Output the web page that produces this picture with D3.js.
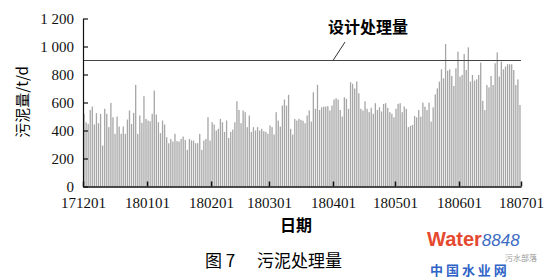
<!DOCTYPE html>
<html>
<head>
<meta charset="utf-8">
<script src="https://cdn.jsdelivr.net/npm/d3@7"></script>
<style>
  body { margin: 0; background: #fff; }
  svg { display: block; }
</style>
</head>
<body>
<div id="chart"></div>
<script>
// daily sludge amounts (t/d), one array per month
var dec = [519,459,447,547,571,443,524,452,519,293,555,519,424,597,495,376,500,428,376,428,376,478,543,447,526,726,376,507,455,645,483];
var jan = [471,466,519,685,514,459,381,471,443,352,309,340,321,376,324,321,340,357,333,262,340,330,328,309,309,376,262,328,340,495,328];
var feb = [459,443,400,412,483,459,390,471,347,390,407,459,609,547,452,543,531,424,507,390,424,400,424,400,412,395,390,376];
var mar = [436,424,371,531,471,428,578,621,578,655,412,371,483,471,483,476,470,452,507,543,464,673,555,726,547,566,571,571,574,543,578];
var apr = [621,631,621,547,500,638,626,555,745,733,700,750,666,555,543,609,555,531,562,519,595,547,566,536,590,595,562,531,519,495];
var may = [555,590,595,531,571,555,424,433,440,504,494,546,499,599,570,546,599,463,565,658,701,749,837,773,1018,827,837,789,718,844,963];
var jun = [785,797,946,832,994,749,797,756,765,797,885,611,546,725,708,789,725,880,958,785,892,837,856,873,873,873,832,725,765,582];

var tickLabels = ['171201','180101','180201','180301','180401','180501','180601','180701'];
var yTicks = [0,200,400,600,800,1000,1200];
var designValue = 900;
var designLabel = '设计处理量';

var width = 554, height = 278;
var margin = { left: 83, right: 33, top: 18.5, bottom: 91.5 };

var values = [].concat(dec, jan, feb, mar, apr, may, jun);
var startDay = new Date(2017, 11, 1), endDay = new Date(2018, 6, 1);
var days = d3.timeDay.range(startDay, endDay);
var data = days.map(function (d, i) { return { date: d, value: values[i] }; });

var svg = d3.select('#chart').append('svg')
  .attr('width', width)
  .attr('height', height);

var x = d3.scaleTime()
  .domain([startDay, endDay])
  .range([margin.left, width - margin.right]);

var y = d3.scaleLinear()
  .domain([0, 1200])
  .range([height - margin.bottom, margin.top]);

var dayW = x(new Date(2017, 11, 2)) - x(startDay);
var serif = '"Liberation Serif", "Times New Roman", serif';
var cjk = '"Noto Sans CJK SC", sans-serif';

// bars
svg.append('g').selectAll('rect')
  .data(data)
  .enter().append('rect')
  .attr('x', function (d) { return x(d.date) + dayW / 2 - 0.65; })
  .attr('width', 1.3)
  .attr('y', function (d) { return y(d.value); })
  .attr('height', function (d) { return y(0) - y(d.value); })
  .attr('fill', '#a6a6a6');

// design capacity line
svg.append('line')
  .attr('x1', x(startDay)).attr('x2', x(endDay))
  .attr('y1', y(designValue)).attr('y2', y(designValue))
  .attr('stroke', '#444').attr('stroke-width', 1.2);

svg.append('line')
  .attr('x1', 345).attr('y1', 42)
  .attr('x2', 333).attr('y2', y(designValue))
  .attr('stroke', '#333').attr('stroke-width', 1);

svg.append('text')
  .attr('x', 368).attr('y', 33)
  .attr('text-anchor', 'middle')
  .attr('font-family', cjk).attr('font-weight', 700)
  .attr('font-size', 16)
  .text(designLabel);

// y axis
var yAxis = svg.append('g')
  .attr('transform', 'translate(' + margin.left + ',0)')
  .call(d3.axisLeft(y)
    .tickValues(yTicks)
    .tickSizeInner(-5).tickSizeOuter(0).tickPadding(9)
    .tickFormat(function (d) { return d >= 1000 ? Math.floor(d / 1000) + ' ' + d3.format('03d')(d % 1000) : d; }));
yAxis.selectAll('text').attr('font-family', serif).attr('font-size', 15).attr('fill', '#111')
  .style('white-space', 'pre');
yAxis.selectAll('line, path').attr('stroke', '#111').attr('stroke-width', 1.2);

// x axis
var monthStarts = d3.timeMonth.range(startDay, d3.timeDay.offset(endDay, 1));
var xAxis = svg.append('g')
  .attr('transform', 'translate(0,' + y(0) + ')')
  .call(d3.axisBottom(x)
    .tickValues(monthStarts)
    .tickSizeInner(-5).tickSizeOuter(0).tickPadding(11)
    .tickFormat(function (d, i) { return tickLabels[i]; }));
xAxis.selectAll('text').attr('font-family', serif).attr('font-size', 15).attr('fill', '#111');
xAxis.selectAll('line').attr('stroke', '#111').attr('stroke-width', 1.5);
xAxis.select('path').attr('stroke', '#111').attr('stroke-width', 1.6);

// axis titles
svg.append('text')
  .attr('x', (x(startDay) + x(endDay)) / 2 - 6).attr('y', 231)
  .attr('text-anchor', 'middle')
  .attr('font-family', cjk).attr('font-weight', 700).attr('font-size', 16)
  .text('日期');

svg.append('text')
  .attr('transform', 'translate(28,' + 102 + ') rotate(-90)')
  .attr('text-anchor', 'middle')
  .attr('font-family', cjk).attr('font-size', 15)
  .text('污泥量/t/d');

// caption
svg.append('text')
  .attr('x', 205).attr('y', 267)
  .attr('font-family', cjk).attr('font-size', 17)
  .text('图 7');
svg.append('text')
  .attr('x', 257).attr('y', 267)
  .attr('font-family', cjk).attr('font-size', 17)
  .text('污泥处理量');

// watermark
var wm = svg.append('text').attr('x', 427).attr('y', 246);
wm.append('tspan').text('Water')
  .attr('font-family', '"Liberation Sans", Arial, sans-serif')
  .attr('font-weight', 700).attr('font-size', 20).attr('fill', '#e5492f');
wm.append('tspan').text('8848')
  .attr('font-family', '"Liberation Sans", Arial, sans-serif')
  .attr('font-style', 'italic').attr('font-size', 17).attr('fill', '#3d6cc4');
svg.append('text')
  .attr('x', 430).attr('y', 275)
  .attr('font-family', cjk).attr('font-weight', 700).attr('font-size', 13)
  .attr('fill', '#2f63c6')
  .text('中 国 水 业 网');
svg.append('text')
  .attr('x', 505).attr('y', 261)
  .attr('font-family', cjk).attr('font-size', 8)
  .attr('fill', '#888').attr('opacity', 0.85)
  .text('污水部落');
</script>
</body>
</html>
